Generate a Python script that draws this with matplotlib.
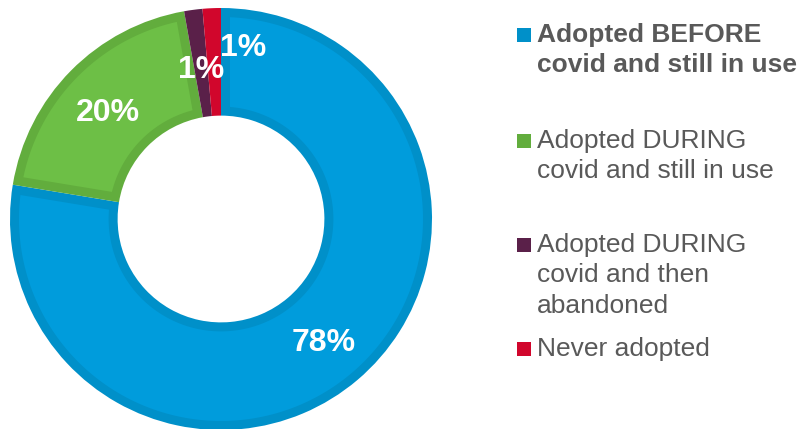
import matplotlib.pyplot as plt
from matplotlib.patches import Rectangle, Polygon
import numpy as np

plt.rcParams['font.family'] = ['Liberation Sans', 'DejaVu Sans']

# share of respondents per adoption status
labels = ["Adopted BEFORE\ncovid and still in use",
          "Adopted DURING\ncovid and still in use",
          "Adopted DURING\ncovid and then\nabandoned",
          "Never adopted"]
shares = [77.6, 19.6, 1.4, 1.4]
fills = ["#009cdc", "#6dbf46", "#5a2049", "#d1062c"]
edges = ["#0090c9", "#62ad3d", "#5a2049", "#d1062c"]
bold = [True, False, False, False]

W, H = 802, 429
fig = plt.figure(figsize=(W / 100, H / 100), dpi=100)

# donut axes: centre (221, 219) px, radius 211 px
cx, cy, r = 221, 219, 211
ax = fig.add_axes([(cx - r) / W, (H - cy - r) / H, 2 * r / W, 2 * r / H])
ring = 0.51
wedges, _ = ax.pie(shares, colors=edges, startangle=90, counterclock=False,
                   radius=1.0, wedgeprops=dict(width=ring, linewidth=0))


def inset_wedge(w, d):
    # lighter inner area of a wedge, leaving a band of width d along its border
    ro, ri = w.r - d, w.r - w.width + d
    t1, t2 = np.deg2rad(w.theta1), np.deg2rad(w.theta2)
    ao, ai = np.arcsin(d / ro), np.arcsin(d / ri)
    if t2 - ao <= t1 + ao or t2 - ai <= t1 + ai:
        return None
    outer = np.linspace(t1 + ao, t2 - ao, 200)
    inner = np.linspace(t2 - ai, t1 + ai, 200)
    xs = np.concatenate([ro * np.cos(outer), ri * np.cos(inner)])
    ys = np.concatenate([ro * np.sin(outer), ri * np.sin(inner)])
    return np.column_stack([xs, ys])


band = 9 / r
for w, fc in zip(wedges, fills):
    pts = inset_wedge(w, band)
    if pts is not None:
        ax.add_patch(Polygon(pts, closed=True, facecolor=fc, edgecolor='none'))

ax.set_xlim(-1, 1)
ax.set_ylim(-1, 1)
ax.set_aspect('equal')
ax.axis('off')

# percentage labels placed along each wedge's mid-angle (small ones nudged)
nudge = [(0.75, 0), (0.745, 0.7), (0.73, 0), (0.835, -9.7)]
for w, v, (dist, dang) in zip(wedges, shares, nudge):
    ang = np.deg2rad((w.theta1 + w.theta2) / 2 + dang)
    ax.text(dist * np.cos(ang), dist * np.sin(ang), f"{round(v)}%",
            ha='center', va='center_baseline', color='white', fontsize=23,
            fontweight='bold')

# legend drawn by hand in pixel positions
first_baseline = [42, 148, 252, 356]
line_step = 30.5
for lab, col, b, y0 in zip(labels, edges, bold, first_baseline):
    fig.patches.append(Rectangle((517 / W, (H - y0 + 0.5) / H), 14 / W, 14 / H,
                                 transform=fig.transFigure, facecolor=col,
                                 edgecolor='none'))
    for i, line in enumerate(lab.split("\n")):
        fig.text(537 / W, (H - y0 - i * line_step) / H, line, ha='left',
                 va='baseline', color='#595959', fontsize=19,
                 fontweight='bold' if b else 'normal')

fig.savefig("out.png", dpi=100)
